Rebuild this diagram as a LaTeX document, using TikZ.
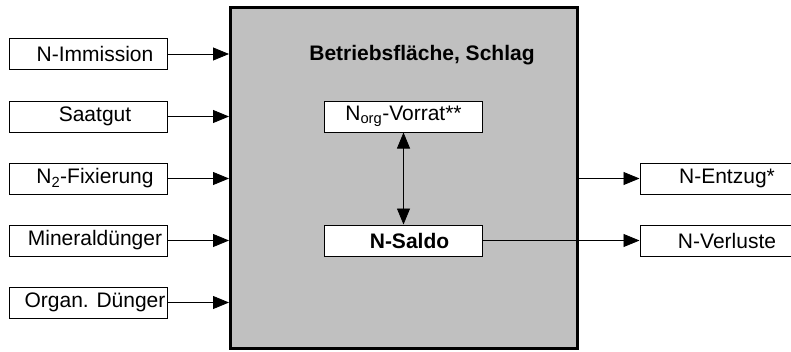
\documentclass[tikz,border=0pt]{standalone}
\usepackage{fontspec}
\setmainfont{Liberation Sans}
\usepackage{tikz}
\usetikzlibrary{arrows.meta}
\definecolor{flaeche}{HTML}{C0C0C0}

\tikzset{
	strom/.style={draw, fill=white, line width=1pt, minimum width=158pt, minimum height=31pt, inner sep=0pt},
	pfeil/.style={->, line width=0.8pt},
}

\begin{document}
\begin{tikzpicture}[x=1pt, y=-1pt, >={Triangle[length=16pt,width=13pt]}, font=\fontsize{21}{25}\selectfont]
		\clip (0,0) rectangle (791,351);
		%Betrieb
		\node [draw, line width=3pt, fill=flaeche, minimum width=347pt, minimum height=341pt, inner sep=0pt] (betrieb) at (404,178) {};
		\node [font=\fontsize{21}{25}\selectfont\bfseries] (titel) at (422,55) {Betriebsfläche, Schlag};
		%Zufuhr
		\node [strom] (imm) at (88,54) {\hspace*{14pt}N-Immission};
		\node [strom] (saat) at (88,116.5) {\hspace*{14pt}Saatgut};
		\node [strom] (fix) at (88,178.5) {\hspace*{14pt}N\textsubscript{2}-Fixierung};
		\node [strom] (min) at (88,240.5) {\hspace*{14pt}Mineraldünger};
		\node [strom] (org) at (88,302.5) {\hspace*{14pt}Organ. Dünger};
		%Innen
		\node [strom] (vorrat) at (403.5,116.5) {N\textsubscript{org}-Vorrat**};
		\node [strom, font=\fontsize{21}{25}\selectfont\bfseries] (saldo) at (403.5,240.5) {\hspace*{12pt}N-Saldo};
		%Abfuhr
		\node [strom] (entzug) at (719,178.5) {\hspace*{16pt}N-Entzug*};
		\node [strom] (verluste) at (719,240.5) {\hspace*{16pt}N-Verluste};
		%Pfeile
		\foreach \n in {imm,saat,fix,min,org}
			\draw [pfeil] (\n.east) -- (\n -| betrieb.west);
		\draw [pfeil, <->] (vorrat.south) -- (saldo.north);
		\draw [pfeil] (betrieb.east |- entzug) -- (entzug.west);
		\draw [pfeil] (saldo.east) -- (verluste.west);
\end{tikzpicture}
\end{document}
